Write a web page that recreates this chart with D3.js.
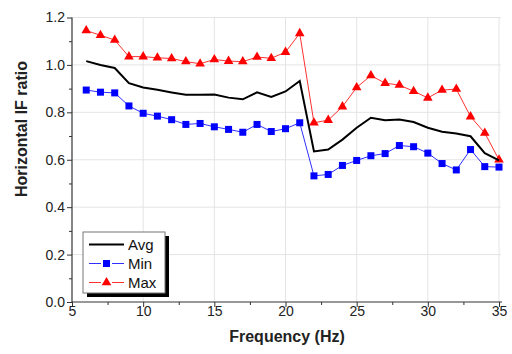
<!DOCTYPE html>
<html><head><meta charset="utf-8">
<script src="https://cdn.jsdelivr.net/npm/d3@7"></script>
<style>html,body{margin:0;padding:0;background:#fff;}svg{display:block;font-family:"Liberation Sans",Arial,sans-serif;}</style>
</head><body>
<svg id="c" width="512" height="354"></svg>
<script>
const freq = [6,7,8,9,10,11,12,13,14,15,16,17,18,19,20,21,22,23,24,25,26,27,28,29,30,31,32,33,34,35];
const avgVals = [1.016,1.0,0.987,0.923,0.905,0.895,0.884,0.874,0.874,0.875,0.862,0.855,0.884,0.865,0.888,0.932,0.635,0.643,0.685,0.735,0.777,0.767,0.770,0.759,0.735,0.718,0.711,0.699,0.628,0.597];
const minVals = [0.894,0.885,0.882,0.827,0.796,0.784,0.769,0.749,0.753,0.739,0.728,0.716,0.749,0.719,0.731,0.756,0.532,0.538,0.576,0.597,0.617,0.626,0.660,0.655,0.628,0.584,0.557,0.643,0.571,0.569];
const maxVals = [1.145,1.125,1.105,1.035,1.035,1.030,1.027,1.014,1.005,1.023,1.016,1.014,1.033,1.028,1.054,1.133,0.756,0.767,0.824,0.905,0.955,0.923,0.915,0.889,0.861,0.894,0.898,0.782,0.713,0.600];
const xTicks = [5,10,15,20,25,30,35];
const yTicks = [0.0,0.2,0.4,0.6,0.8,1.0,1.2];
const seriesNames = ["Avg","Min","Max"];

const svg = d3.select("#c");
const L = 72, R = 499, T = 17.5, B = 302;
const x = d3.scaleLinear().domain([5,35]).range([L,R]);
const y = d3.scaleLinear().domain([0,1.2]).range([B,T]);

// grid
const g = svg.append("g");
g.selectAll("line.gx").data(xTicks.slice(1)).join("line")
  .attr("x1",d=>x(d)).attr("x2",d=>x(d)).attr("y1",B).attr("y2",T)
  .attr("stroke","#e4e4e4").attr("stroke-width",1);
g.selectAll("line.gy").data(yTicks.slice(1)).join("line")
  .attr("x1",L).attr("x2",R+2).attr("y1",d=>y(d)).attr("y2",d=>y(d))
  .attr("stroke","#e4e4e4").attr("stroke-width",1);

// axes
const xAxis = d3.axisBottom(x).tickValues(xTicks).tickFormat(d3.format("d")).tickSize(5).tickPadding(2);
const xMinor = d3.axisBottom(x).tickValues(d3.range(7.5,35,5)).tickFormat("").tickSize(3);
const yAxis = d3.axisLeft(y).tickValues(yTicks).tickFormat(d3.format(".1f")).tickSize(5).tickPadding(2);
const yMinor = d3.axisLeft(y).tickValues(d3.range(0.1,1.2,0.2)).tickFormat("").tickSize(3);

function style(sel){
  sel.select(".domain").attr("stroke","#333").attr("stroke-width",1.2);
  sel.selectAll(".tick line").attr("stroke","#333");
  sel.selectAll("text").attr("fill","#222").style("font-size","14px").style("font-family","'Liberation Sans',Arial,sans-serif");
}
svg.append("g").attr("transform",`translate(0,${B})`).call(xMinor).call(style).select(".domain").remove();
svg.append("g").attr("transform",`translate(${L},0)`).call(yMinor).call(style).select(".domain").remove();
svg.append("g").attr("transform",`translate(0,${B})`).call(xAxis).call(style)
  .call(s=>s.select(".domain").attr("d",`M${L},0H${R+3}`))
  .call(s=>s.selectAll(".tick text").attr("y",4));
svg.append("g").attr("transform",`translate(${L},0)`).call(yAxis).call(style).call(s=>s.select(".domain").attr("d",`M0,${B}V${T}`));

// titles
svg.append("text").attr("x",287).attr("y",342).attr("text-anchor","middle")
  .style("font-size","16px").style("font-weight","bold").attr("fill","#222").text("Frequency (Hz)");
svg.append("text").attr("transform",`translate(27,129) rotate(-90)`).attr("text-anchor","middle")
  .style("font-size","16px").style("font-weight","bold").attr("fill","#222").text("Horizontal IF ratio");

const line = d3.line().x(d=>x(d[0])).y(d=>y(d[1]));
const zip = vals => freq.map((f,i)=>[f,vals[i]]);

// Max
svg.append("path").attr("d",line(zip(maxVals))).attr("fill","none").attr("stroke","#ff3030").attr("stroke-width",1);
svg.append("g").selectAll("path").data(zip(maxVals)).join("path")
  .attr("transform",d=>`translate(${x(d[0])},${y(d[1])})`)
  .attr("d",d3.symbol(d3.symbolTriangle,40)).attr("fill","#ff0000");
// Min
svg.append("path").attr("d",line(zip(minVals))).attr("fill","none").attr("stroke","#3030ff").attr("stroke-width",1);
svg.append("g").selectAll("rect").data(zip(minVals)).join("rect")
  .attr("x",d=>x(d[0])-3.5).attr("y",d=>y(d[1])-3.5).attr("width",7).attr("height",7).attr("fill","#0000ff");
// Avg
svg.append("path").attr("d",line(zip(avgVals))).attr("fill","none").attr("stroke","#000").attr("stroke-width",2);

// legend
const lg = svg.append("g");
lg.append("rect").attr("x",87).attr("y",236).attr("width",82).attr("height",61).attr("fill","#000");
lg.append("rect").attr("x",83).attr("y",232).attr("width",82).attr("height",61).attr("fill","#fff").attr("stroke","#777").attr("stroke-width",1);
const rows = [244.5,263.5,282.5];
// Avg
lg.append("line").attr("x1",89).attr("x2",124).attr("y1",rows[0]).attr("y2",rows[0]).attr("stroke","#000").attr("stroke-width",2);
// Min
lg.append("line").attr("x1",89).attr("x2",101).attr("y1",rows[1]).attr("y2",rows[1]).attr("stroke","#3030ff");
lg.append("line").attr("x1",112).attr("x2",124).attr("y1",rows[1]).attr("y2",rows[1]).attr("stroke","#3030ff");
lg.append("rect").attr("x",103).attr("y",rows[1]-3.5).attr("width",7).attr("height",7).attr("fill","#0000ff");
// Max
lg.append("line").attr("x1",89).attr("x2",101).attr("y1",rows[2]).attr("y2",rows[2]).attr("stroke","#ff3030");
lg.append("line").attr("x1",112).attr("x2",124).attr("y1",rows[2]).attr("y2",rows[2]).attr("stroke","#ff3030");
lg.append("path").attr("transform",`translate(106.5,${rows[2]})`).attr("d",d3.symbol(d3.symbolTriangle,40)).attr("fill","#ff0000");
lg.selectAll("text").data(seriesNames).join("text")
  .attr("x",128).attr("y",(d,i)=>rows[i]+5.5).style("font-size","15px").attr("fill","#111").text(d=>d);
</script>
</body></html>
